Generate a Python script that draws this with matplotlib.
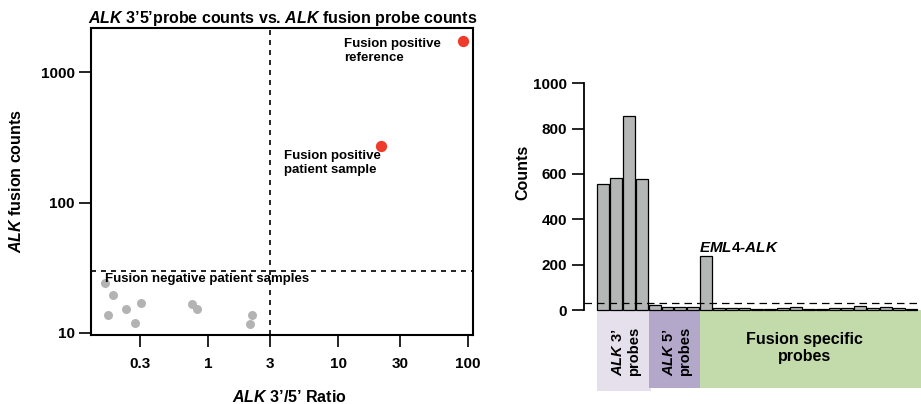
import numpy as np
import matplotlib
matplotlib.use("Agg")
import matplotlib.pyplot as plt
from matplotlib.patches import Rectangle
from matplotlib.ticker import NullLocator

plt.rcParams['font.family'] = 'Liberation Sans'
plt.rcParams['font.weight'] = 'bold'
plt.rcParams['mathtext.fontset'] = 'custom'
plt.rcParams['mathtext.rm'] = 'Liberation Sans:bold'
plt.rcParams['mathtext.bf'] = 'Liberation Sans:bold'
plt.rcParams['mathtext.it'] = 'Liberation Sans:italic:bold'

# Scatter: ALK 3'/5' ratio vs fusion counts
neg_ratio = [0.161, 0.186, 0.170, 0.234, 0.274, 0.305, 0.753, 0.820, 2.10, 2.19]
neg_counts = [24.2, 19.5, 13.7, 15.3, 11.9, 17.0, 16.7, 15.3, 11.7, 13.7]
pos_ratio = [21.4]
pos_counts = [271]
ref_ratio = [91]
ref_counts = [1730]
ratio_cut = 3
count_cut = 30
x_ticks = [0.3, 1, 3, 10, 30, 100]
x_tick_labels = ['0.3', '1', '3', '10', '30', '100']
y_ticks = [10, 100, 1000]
y_tick_labels = ['10', '100', '1000']

# Bars: probe counts of the positive sample
alk3_counts = [557, 583, 855, 577]
alk5_counts = [22, 12, 12, 12]
fusion_counts = [240, 10, 10, 9, 6, 6, 7, 12, 3, 3, 10, 7, 16, 10, 13, 9, 6]
bar_cut = 33
bar_ticks = [0, 200, 400, 600, 800, 1000]

fig = plt.figure(figsize=(9.21, 4.04), dpi=100)

# ---- left panel ----
ax = fig.add_axes([0.0988, 0.1708, 0.4148, 0.76])
ax.set_xscale('log')
ax.set_yscale('log')
ax.set_xlim(0.126, 109)
ax.set_ylim(9.65, 2180)
ax.scatter(neg_ratio, neg_counts, s=42, color='#b3b3b3', linewidths=0, zorder=3)
ax.scatter(pos_ratio + ref_ratio, pos_counts + ref_counts, s=66, color='#ee3b2a',
           linewidths=0, zorder=3)
ax.axvline(ratio_cut, color='black', lw=1.2, dashes=(3, 3))
ax.axhline(count_cut, color='black', lw=1.2, dashes=(3, 3))
ax.set_xticks(x_ticks, x_tick_labels)
ax.set_yticks(y_ticks, y_tick_labels)
ax.xaxis.set_minor_locator(NullLocator())
ax.yaxis.set_minor_locator(NullLocator())
ax.tick_params(axis='both', length=8.6, width=1.2, labelsize=11)
ax.tick_params(axis='x', pad=7)
ax.tick_params(axis='y', pad=3)
for s in ax.spines.values():
    s.set_linewidth(1.5)

ax.text(11.1, 1820, 'Fusion positive\nreference', fontsize=9.5, va='top', ha='left')
ax.text(3.84, 252, 'Fusion positive\npatient sample', fontsize=9.5, va='top', ha='left')
ax.text(0.162, 28.8, 'Fusion negative patient samples', fontsize=9.5, va='top',
        ha='left', zorder=4)

fig.text(282.5 / 921, 1 - 18 / 404,
         r'$\mathit{ALK}$ 3’5’probe counts vs. $\mathit{ALK}$ fusion probe counts',
         fontsize=11.5, ha='center', va='center')
fig.text(16 / 921, 1 - 181 / 404, r'$\mathit{ALK}$ fusion counts', fontsize=11.5,
         rotation=90, ha='center', va='center')
fig.text(289 / 921, 1 - 397 / 404, r'$\mathit{ALK}$ 3’/5’ Ratio', fontsize=11.5,
         ha='center', va='center')

# ---- right panel ----
bx = fig.add_axes([0.634, 0.032, 0.366, 0.762])
counts = alk3_counts + alk5_counts + fusion_counts
pos = np.arange(len(counts))
bx.bar(pos, counts, width=0.92, color='#b4b7b6', edgecolor='black', linewidth=0.9,
       zorder=3)
bx.set_xlim(-1.51, 24.74)
bx.set_ylim(-357, 1000)
bx.axhline(bar_cut, color='black', lw=0.9, dashes=(6, 4), zorder=4)
for side in ['top', 'right', 'bottom']:
    bx.spines[side].set_visible(False)
bx.spines['left'].set_bounds(0, 1000)
bx.spines['left'].set_linewidth(1.3)
bx.set_xticks([])
bx.set_yticks(bar_ticks)
bx.tick_params(axis='y', length=8.6, width=1.2, labelsize=11, pad=3.5)

n3 = len(alk3_counts)
n5 = len(alk5_counts)
bx.add_patch(Rectangle((-0.5, -357), n3 + 0.2, 357, color='#e6e0ec', lw=0,
                       clip_on=False))
bx.add_patch(Rectangle((n3 - 0.45, -343), n5 + 0.45, 343, color='#b3a8c9', lw=0,
                       clip_on=False))
bx.add_patch(Rectangle((n3 + n5 - 0.5, -343), 24.74 - (n3 + n5 - 0.5), 343,
                       color='#c3dbaa', lw=0, clip_on=False))

bx.text(1.76, -291, '$\\mathit{ALK}$ 3’\nprobes', rotation=90, fontsize=10.5,
        ha='center', va='bottom', multialignment='left')
bx.text(5.73, -291, '$\\mathit{ALK}$ 5’\nprobes', rotation=90, fontsize=10.5,
        ha='center', va='bottom', multialignment='left')
bx.text(15.7, -167, 'Fusion specific\nprobes', fontsize=11.5, ha='center',
        va='center')
bx.text(7.44, 255, '$\\mathit{EML4}$-$\\mathit{ALK}$', fontsize=11, ha='left',
        va='baseline')

fig.text(523 / 921, 1 - 172 / 404, 'Counts', rotation=90, fontsize=11.5,
         ha='center', va='center')

fig.savefig('out.png', dpi=100)
